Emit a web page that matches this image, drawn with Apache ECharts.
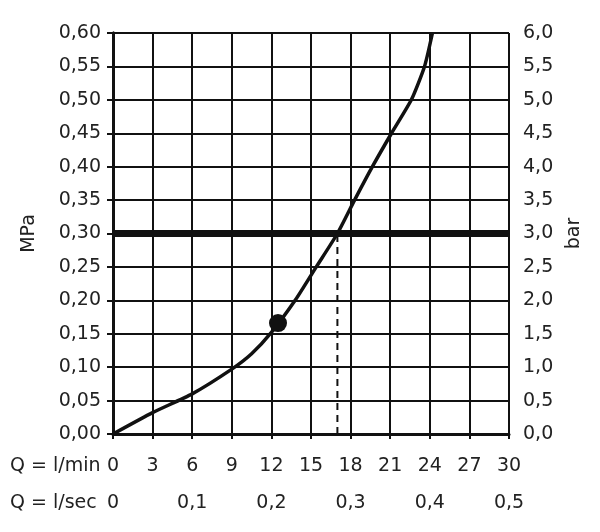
<!DOCTYPE html>
<html>
<head>
<meta charset="utf-8">
<script src="https://cdn.jsdelivr.net/npm/echarts@6/dist/echarts.min.js"></script>
<style>
html, body { margin: 0; padding: 0; background: #fff; }
#chart { width: 600px; height: 532px; }
</style>
</head>
<body>
<div id="chart"></div>
<script>
// Q (l/min) -> pressure (MPa)
const flowLpm = [0, 3, 6, 9, 10.5, 12, 13.8, 15.4, 17, 18.3, 19.65, 21.1, 22.6, 23.6, 24.2];
const pressureMPa = [0, 0.032, 0.06, 0.097, 0.12, 0.152, 0.20, 0.25, 0.30, 0.35, 0.40, 0.45, 0.50, 0.55, 0.60];
const markPoint = [12.5, 0.166];
const refPressure = 0.30;
const refFlow = 17;

const font = 'DejaVu Sans';
const fs = 19;
const comma = (v, d) => v.toFixed(d).replace('.', ',');

const chart = echarts.init(document.getElementById('chart'));

const curve = flowLpm.map((q, i) => [q, pressureMPa[i]]);

chart.setOption({
	animation: false,
	backgroundColor: '#fff',
	grid: { left: 113, right: 91, top: 33, bottom: 98 },
	xAxis: [{
		type: 'value', min: 0, max: 30, interval: 3,
		axisLine: { show: true, onZero: false, lineStyle: { color: '#111', width: 3 } },
		axisTick: { show: true, length: 5, lineStyle: { color: '#111', width: 2 } },
		splitLine: { show: true, lineStyle: { color: '#111', width: 2 } },
		axisLabel: { margin: 23, fontFamily: font, fontSize: fs, color: '#222' }
	}, {
		type: 'value', min: 0, max: 0.5, interval: 0.1, position: 'bottom', offset: 37,
		axisLine: { show: false }, axisTick: { show: false }, splitLine: { show: false },
		axisLabel: { margin: 23, fontFamily: font, fontSize: fs, color: '#222',
			formatter: v => v === 0 ? '0' : comma(v, 1) }
	}],
	yAxis: [{
		type: 'value', min: 0, max: 0.6, interval: 0.05, position: 'left',
		name: 'MPa', nameLocation: 'middle', nameRotate: 90, nameGap: 74,
		nameTextStyle: { fontFamily: font, fontSize: fs, color: '#222' },
		axisLine: { show: true, lineStyle: { color: '#111', width: 3 } },
		axisTick: { show: true, length: 6, lineStyle: { color: '#111', width: 2 } },
		splitLine: { show: true, lineStyle: { color: '#111', width: 2 } },
		axisLabel: { margin: 12, fontFamily: font, fontSize: fs, color: '#222',
			formatter: v => comma(v, 2) }
	}, {
		type: 'value', min: 0, max: 6, interval: 0.5, position: 'right',
		name: 'bar', nameLocation: 'middle', nameRotate: 90, nameGap: 55,
		nameTextStyle: { fontFamily: font, fontSize: fs, color: '#222' },
		axisLine: { show: true, lineStyle: { color: '#111', width: 3 } },
		axisTick: { show: true, length: 6, lineStyle: { color: '#111', width: 2 } },
		splitLine: { show: false },
		axisLabel: { margin: 14, fontFamily: font, fontSize: fs, color: '#222',
			formatter: v => comma(v, 1) }
	}],
	graphic: [
		{ type: 'text', left: 10, top: 457, style: { text: 'Q = l/min', fontFamily: font, fontSize: fs, fill: '#222' } },
		{ type: 'text', left: 10, top: 494, style: { text: 'Q = l/sec', fontFamily: font, fontSize: fs, fill: '#222' } }
	],
	series: [{
		type: 'line',
		data: [[0, refPressure], [30, refPressure]],
		symbol: 'none', silent: true,
		lineStyle: { color: '#111', width: 7 },
		z: 3
	}, {
		type: 'line',
		data: [[refFlow, 0], [refFlow, refPressure]],
		symbol: 'none', silent: true,
		lineStyle: { color: '#111', width: 2, type: [7, 5] },
		z: 3
	}, {
		type: 'line',
		data: curve,
		smooth: 0.2,
		symbol: 'none',
		lineStyle: { color: '#111', width: 3.5 },
		z: 4
	}, {
		type: 'scatter',
		data: [markPoint],
		symbolSize: 18,
		itemStyle: { color: '#111', opacity: 1 },
		z: 5
	}]
});
</script>
</body>
</html>
